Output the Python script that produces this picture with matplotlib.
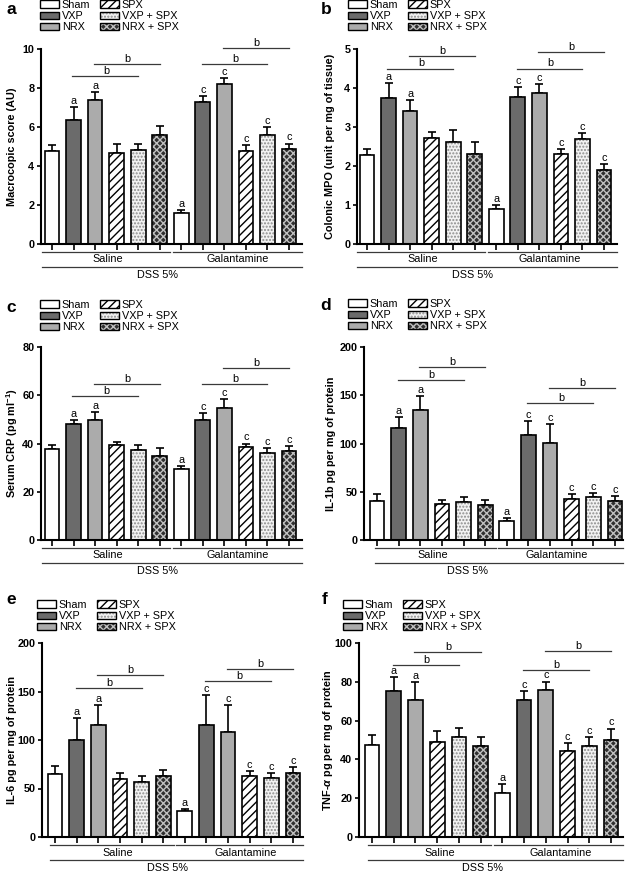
import numpy as np
import matplotlib
matplotlib.use('Agg')
import matplotlib.pyplot as plt
from matplotlib.patches import Patch
import matplotlib.transforms as mtransforms

plt.rcParams['font.family'] = ['Liberation Sans', 'DejaVu Sans']
plt.rcParams['mathtext.fontset'] = 'custom'
plt.rcParams['mathtext.rm'] = 'Liberation Sans:bold'
plt.rcParams['mathtext.it'] = 'Liberation Sans:italic:bold'
plt.rcParams['hatch.linewidth'] = 1.0

# Groups: 6 treatments, first under Saline then under Galantamine
groups = ['Sham', 'VXP', 'NRX', 'SPX', 'VXP + SPX', 'NRX + SPX']
sig = ['', 'a', 'a', '', '', '', 'a', 'c', 'c', 'c', 'c', 'c']

macro_mean = [4.78, 6.37, 7.41, 4.69, 4.83, 5.60, 1.58, 7.29, 8.18, 4.78, 5.58, 4.86]
macro_sem = [0.31, 0.64, 0.37, 0.43, 0.32, 0.47, 0.14, 0.30, 0.33, 0.29, 0.43, 0.29]
macro_b = [8.59, 9.24, 9.24, 10.07]

mpo_mean = [2.28, 3.74, 3.40, 2.72, 2.62, 2.30, 0.89, 3.76, 3.88, 2.30, 2.69, 1.91]
mpo_sem = [0.15, 0.38, 0.30, 0.14, 0.30, 0.31, 0.11, 0.26, 0.23, 0.14, 0.16, 0.14]
mpo_b = [4.50, 4.83, 4.50, 4.93]

crp_mean = [37.6, 48.0, 49.9, 39.4, 37.2, 35.0, 29.3, 49.8, 54.6, 38.6, 36.0, 36.8]
crp_sem = [1.8, 1.7, 3.1, 1.1, 2.2, 3.2, 1.3, 3.0, 3.9, 1.4, 2.0, 2.2]
crp_b = [59.5, 64.7, 64.7, 71.1]

il1b_mean = [40.5, 115.9, 134.9, 37.4, 39.8, 36.7, 19.4, 109.0, 101.0, 42.2, 44.6, 40.5]
il1b_sem = [6.9, 11.8, 13.9, 4.1, 5.2, 4.8, 3.1, 14.2, 19.4, 5.6, 4.5, 5.2]
il1b_b = [166, 179, 142, 158]

il6_mean = [65.3, 100.0, 115.1, 59.5, 57.0, 63.2, 27.1, 115.5, 108.6, 62.5, 60.8, 66.3]
il6_sem = [7.6, 22.7, 21.0, 6.1, 5.5, 5.9, 1.8, 31.2, 27.1, 5.2, 4.8, 5.5]
il6_b = [153.6, 167, 160.5, 173.5]

tnf_mean = [47.5, 75.5, 70.5, 49.2, 51.6, 46.7, 22.5, 70.5, 75.8, 44.3, 46.7, 49.9]
tnf_sem = [5.0, 6.8, 9.3, 5.2, 4.5, 4.8, 4.6, 4.6, 4.3, 3.9, 4.9, 6.0]
tnf_b = [88.5, 95.2, 86.3, 95.7]

# bar styles: face, hatch, hatch colour
styles = [
    ('white', None, 'black'),
    ('#6b6b6b', None, 'black'),
    ('#ababab', None, 'black'),
    ('white', '////', 'black'),
    ('#f2f2f2', '.....', '#8c8c8c'),
    ('#303030', 'xxxxx', '#c0c0c0'),
]

W, H = 630, 874
fig = plt.figure(figsize=(W / 100, H / 100), dpi=100)


def px_rect(l, r, t, b):
    return [l / W, 1 - b / H, (r - l) / W, (b - t) / H]


# layout in pixels: axis left, first bar, last bar, axis right, top, bottom
panels = [
    dict(letter='a', mean=macro_mean, sem=macro_sem, br=macro_b, ylabel='Macrocopic score (AU)',
         ylim=(0, 10), ticks=[0, 2, 4, 6, 8, 10], box=(41, 52, 289, 302, 49, 244),
         gl=42, lab=12, leg=(40, 0), let=(11, 10), tx=(2.6, 8.6, 4.9)),
    dict(letter='b', mean=mpo_mean, sem=mpo_sem, br=mpo_b, ylabel='Colonic MPO (unit per mg of tissue)',
         ylim=(0, 5), ticks=[0, 1, 2, 3, 4, 5], box=(357, 367, 604, 617, 49, 244),
         gl=357, lab=330, leg=(348, 0), let=(326, 10), tx=(2.6, 8.5, 4.9)),
    dict(letter='c', mean=crp_mean, sem=crp_sem, br=crp_b, ylabel='Serum CRP (pg ml$^{-1}$)',
         ylim=(0, 80), ticks=[0, 20, 40, 60, 80], box=(41, 52, 289, 302, 347, 540),
         gl=42, lab=12, leg=(40, 300), let=(11, 308), tx=(2.6, 8.6, 4.9)),
    dict(letter='d', mean=il1b_mean, sem=il1b_sem, br=il1b_b, ylabel='IL-1b pg per mg of protein',
         ylim=(0, 200), ticks=[0, 50, 100, 150, 200], box=(364, 377, 615, 623, 347, 540),
         gl=375, lab=331, leg=(348, 299), let=(326, 305), tx=(2.6, 8.3, 4.2)),
    dict(letter='e', mean=il6_mean, sem=il6_sem, br=il6_b, ylabel='IL-6 pg per mg of protein',
         ylim=(0, 200), ticks=[0, 50, 100, 150, 200], box=(42, 55, 293, 303, 643, 837),
         gl=50, lab=12, leg=(37, 600), let=(11, 600), tx=(2.9, 8.8, 5.2)),
    dict(letter='f', mean=tnf_mean, sem=tnf_sem, br=tnf_b, ylabel=r'TNF-$\alpha$ pg per mg of protein',
         ylim=(0, 100), ticks=[0, 20, 40, 60, 80, 100], box=(359, 372, 611, 623, 643, 837),
         gl=368, lab=328, leg=(343, 600), let=(325, 599), tx=(3.1, 8.7, 5.1)),
]

x = np.arange(12)
fs = 7.8

for p in panels:
    l, c0, c11, r, t, b = p['box']
    unit = (c11 - c0) / 11
    ax = fig.add_axes(px_rect(l, r, t, b))
    xlim = (-(c0 - l) / unit, 11 + (r - c11) / unit)
    ax.set_xlim(xlim)
    ax.set_ylim(p['ylim'])
    mean = np.array(p['mean'])
    sem = np.array(p['sem'])

    ax.errorbar(x, mean, yerr=[np.zeros(12), sem], fmt='none', ecolor='black',
                elinewidth=1.2, capsize=2.6, capthick=1.2, zorder=1)
    for k, (fc, hatch, hc) in enumerate(styles):
        idx = [k, k + 6]
        ax.bar(x[idx], mean[idx], 0.68, color=fc, hatch=hatch, edgecolor=hc, linewidth=0, zorder=2)
        ax.bar(x[idx], mean[idx], 0.68, facecolor='none', edgecolor='black', linewidth=1.2, zorder=3)

    for i in range(12):
        if sig[i]:
            ax.annotate(sig[i], (x[i], mean[i] + sem[i]), xytext=(0, 0.8), textcoords='offset points',
                        ha='center', va='bottom', fontsize=fs)

    pairs = [(1, 4), (2, 5), (7, 10), (8, 11)]
    for (i0, i1), h in zip(pairs, p['br']):
        ax.plot([i0 - 0.05, i1], [h, h], color='#3a3a3a', lw=0.9, clip_on=False)
        ax.text((i0 + i1) / 2, h, 'b', ha='center', va='bottom', fontsize=fs)

    for s in ['top', 'right']:
        ax.spines[s].set_visible(False)
    for s in ['left', 'bottom']:
        ax.spines[s].set_linewidth(1.5)
    ax.set_xticks(x)
    ax.set_xticklabels([])
    ax.tick_params(axis='x', direction='out', length=4.5, width=1.2)
    ax.set_yticks(p['ticks'])
    ax.set_yticklabels([str(v) for v in p['ticks']], fontweight='bold', fontsize=7.8)
    ax.tick_params(axis='y', direction='out', length=3.2, width=1.2, pad=1.5)

    ax.set_ylabel(p['ylabel'], fontweight='bold', fontsize=7.8)
    ax.yaxis.label.set_verticalalignment('center')
    ax.yaxis.set_label_coords((p['lab'] - l) / (r - l), 0.5)

    # group lines beneath the axis
    h_px = b - t
    trans = mtransforms.blended_transform_factory(ax.transData, ax.transAxes)
    left = (p['gl'] - c0) / unit
    ax.plot([left, 5.48], [-8 / h_px] * 2, color='#3a3a3a', lw=0.9, transform=trans, clip_on=False)
    ax.plot([5.6, xlim[1]], [-8 / h_px] * 2, color='#3a3a3a', lw=0.9, transform=trans, clip_on=False)
    ax.plot([left, xlim[1]], [-23 / h_px] * 2, color='#3a3a3a', lw=0.9, transform=trans, clip_on=False)
    ax.text(p['tx'][0], -15.5 / h_px, 'Saline', transform=trans, ha='center', va='center', fontsize=fs)
    ax.text(p['tx'][1], -15.5 / h_px, 'Galantamine', transform=trans, ha='center', va='center', fontsize=fs)
    ax.text(p['tx'][2], -31 / h_px, 'DSS 5%', transform=trans, ha='center', va='center', fontsize=fs)

    # legend
    handles = []
    for fc, hatch, hc in styles:
        handles.append((Patch(facecolor=fc, hatch=hatch, edgecolor=hc, linewidth=0),
                        Patch(facecolor='none', edgecolor='black', linewidth=1.0)))
    lx, ly = p['leg']
    ax.legend(handles, groups, ncol=2, loc='upper left', bbox_to_anchor=(lx / W, 1 - ly / H),
              bbox_transform=fig.transFigure, frameon=False, fontsize=fs, handlelength=1.75,
              handleheight=0.7, handletextpad=0.25, labelspacing=0.1, columnspacing=0.9,
              borderpad=0, borderaxespad=0)

    fig.text(p['let'][0] / W, 1 - p['let'][1] / H, p['letter'], fontsize=12.5, fontweight='bold',
             ha='center', va='center')

fig.savefig('out.png', dpi=100)
